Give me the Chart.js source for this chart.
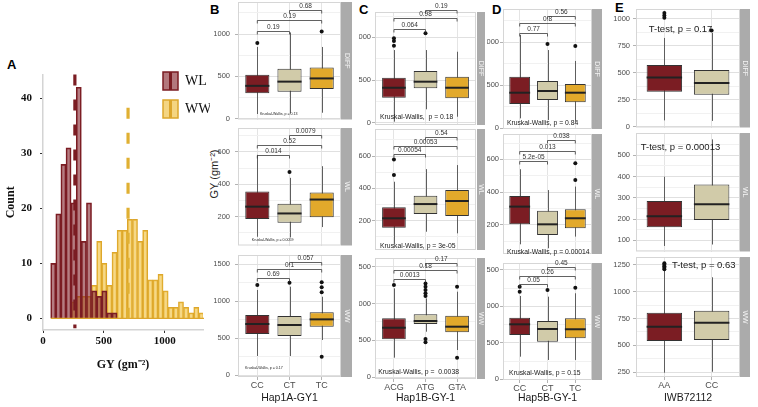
<!DOCTYPE html>
<html>
<head>
<meta charset="utf-8">
<script src="https://cdn.jsdelivr.net/npm/chart.js@4.4.0/dist/chart.umd.min.js"></script>
<style>
  body { margin: 0; background: #fff; }
  #wrap { position: relative; width: 758px; height: 407px; overflow: hidden; }
  #wrap canvas { position: absolute; }
  .tag { position: absolute; font: bold 13px 'Liberation Sans', Arial, sans-serif; line-height: 13px; color: #000; }
  #gy { position: absolute; left: 213px; top: 174px; transform: translate(-50%, -50%) rotate(-90deg);
        font: 11px 'Liberation Sans', Arial, sans-serif; color: #222; white-space: nowrap; }
</style>
</head>
<body>
<div id="wrap">
  <div class="tag" style="left:7px;top:58px">A</div>
  <div class="tag" style="left:210px;top:3px">B</div>
  <div class="tag" style="left:359px;top:3px">C</div>
  <div class="tag" style="left:492px;top:3px">D</div>
  <div class="tag" style="left:615px;top:1px">E</div>
  <div id="gy">GY (gm⁻²)</div>
</div>
<script>
// ---- panel A : histogram of GY ----
const binMids = [84, 126, 168, 210, 252, 294, 336, 378, 420, 462, 504, 546, 588, 630, 672,
                 714, 756, 798, 840, 882, 924, 966, 1008, 1050, 1092, 1134, 1176, 1218, 1260, 1302];
const countWL = [10, 19, 28, 31, 21, 42, 14, 21, 5, 4, 5, 1, 1, 0, 0,
                 0, 0, 0, 0, 0, 0, 0, 0, 0, 0, 0, 0, 0, 0, 0];
const countWW = [0, 0, 0, 0, 3, 4, 4, 4, 6, 14, 10, 6, 12, 16, 16,
                 18, 18, 14, 16, 7, 7, 8, 5, 2, 2, 3, 2, 1, 2, 1];
const groupMeans = [262, 699];          // WL, WW
const histXTicks = [0, 500, 1000];
const histYTicks = [0, 10, 20, 30, 40];

// ---- genotype groups ----
const hap1A = ['CC', 'CT', 'TC'];
const hap1B = ['ACG', 'ATG', 'GTA'];
const hap5B = ['CC', 'CT', 'TC'];
const iwb = ['AA', 'CC'];

// box stats: [lower whisker, q1, median, q3, upper whisker]
const bDiff = [[54, 299, 387, 517, 847], [61, 318, 437, 590, 1019], [69, 349, 475, 605, 847]];
const bWL   = [[76, 186, 262, 356, 582], [72, 162, 220, 280, 440], [136, 196, 306, 350, 512]];
const bWW   = [[257, 554, 689, 811, 1149], [257, 527, 676, 797, 1194], [473, 653, 752, 847, 1058]];
const cDiff = [[12, 293, 410, 528, 852], [157, 403, 481, 606, 852], [70, 286, 410, 539, 832]];
const cWL   = [[60, 157, 215, 283, 441], [132, 241, 303, 354, 519], [122, 229, 322, 390, 544]];
const cWW   = [[266, 515, 672, 799, 1206], [618, 722, 763, 854, 1070], [370, 610, 686, 835, 1160]];
const dDiff = [[116, 283, 414, 600, 1085], [97, 329, 434, 550, 910], [77, 302, 414, 515, 783]];
const dWL   = [[82, 204, 312, 377, 540], [58, 139, 204, 287, 413], [129, 180, 241, 296, 434]];
const dWW   = [[310, 608, 754, 845, 1143], [265, 516, 690, 800, 1133], [265, 562, 686, 837, 1180]];
const eDiff = [[60, 326, 457, 573, 823], [55, 298, 405, 527, 869]];
const eWL   = [[73, 161, 213, 285, 399], [80, 195, 270, 363, 575]];
const eWW   = [[245, 541, 674, 804, 1202], [254, 550, 711, 823, 1134]];

// outliers per group
const bDiffOut = [[893], [], [1031]];
const bWLOut   = [[], [476], []];
const bWWOut   = [[1216], [1247], [1252, 1185, 1117, 248]];
const cDiffOut = [[989, 958, 903], [1048], []];
const cWLOut   = [[579, 482], [], []];
const cWWOut   = [[1251], [1273, 1228, 1183, 1138, 1102, 519, 474], [1228, 266]];
const dDiffOut = [[], [980], [957]];
const dWLOut   = [[], [], [576, 474]];
const dWWOut   = [[1270, 1202], [1225], [1256]];
const eDiffOut = [[1054, 1030, 1009], [893]];
const eWLOut   = [[], []];
const eWWOut   = [[1264, 1250, 1236, 1222, 1209], []];

// pairwise p-values (1-2, 1-3, 2-3) and bracket heights
const bDiffP = ['0.19', '0.19', '0.68'],        bDiffPY = [1038, 1161, 1287];
const bWLP   = ['0.014', '0.52', '0.0079'],     bWLPY   = [582, 642, 704];
const bWWP   = ['0.69', '0.1', '0.057'],        bWWPY   = [1307, 1428, 1531];
const cDiffP = ['0.064', '0.98', '0.19'],       cDiffPY = [1098, 1224, 1321];
const cWLP   = ['0.00054', '0.00053', '0.54'],  cWLPY   = [610, 662, 719];
const cWWP   = ['0.0013', '0.18', '0.17'],      cWWPY   = [1332, 1454, 1553];
const dDiffP = ['0.77', '0.8', '0.56'],         dDiffPY = [1105, 1221, 1306];
const dWLP   = ['5.2e-05', '0.013', '0.038'],   dWLPY   = [590, 653, 718];
const dWWP   = ['0.05', '0.26', '0.45'],        dWWPY   = [1307, 1417, 1545];

const bNotes = ['Kruskal-Wallis, p = 0.13', 'Kruskal-Wallis, p = 0.0059', 'Kruskal-Wallis, p = 0.17'];
const cNotes = ['Kruskal-Wallis,  p = 0.18', 'Kruskal-Wallis, p = 3e-05', 'Kruskal-Wallis, p =  0.0038'];
const dNotes = ['Kruskal-Wallis, p = 0.84', 'Kruskal-Wallis, p = 0.00014', 'Kruskal-Wallis, p = 0.15'];
const eNotes = ['T-test, p = 0.17', 'T-test, p = 0.00013', 'T-test, p = 0.63'];

// y tick values
const diffMajor = [0, 500, 1000], diffMinor = [250, 750, 1250];
const wlMajor = [200, 400, 600], wlMinor = [100, 300, 500, 700];
const wwMajor = [0, 500, 1000, 1500], wwMinor = [250, 750, 1250];
const eDiffMajor = [0, 250, 500, 750, 1000], eDiffMinor = [125, 375, 625, 875];
const eWLMajor = [100, 200, 300, 400, 500], eWLMinor = [50, 150, 250, 350, 450, 550];
const eWWMajor = [250, 500, 750, 1000, 1250], eWWMinor = [375, 625, 875, 1125];

Chart.defaults.font.family = "'Liberation Sans', Arial, sans-serif";
Chart.defaults.animation = false;
const narrow = "'Liberation Sans Narrow', 'Arial Narrow', 'Liberation Sans', sans-serif";
const serif = "'Liberation Serif', 'Times New Roman', serif";
const genoFill = ['#7b1d23', '#d1cba9', '#e2a92b'];

const wrap = document.getElementById('wrap');
function addCanvas(left, top, w, h) {
  const c = document.createElement('canvas');
  c.width = w; c.height = h;
  c.style.left = left + 'px'; c.style.top = top + 'px';
  c.style.width = w + 'px'; c.style.height = h + 'px';
  wrap.appendChild(c);
  return c;
}

// ---------- histogram ----------
const histExtras = {
  id: 'histExtras',
  afterDatasetsDraw(chart) {
    const { ctx, scales: { x, y } } = chart;
    ctx.save();
    // zero-count bins outline
    ctx.strokeStyle = '#dca62c'; ctx.lineWidth = 1.2;
    ctx.beginPath();
    ctx.moveTo(x.getPixelForValue(binMids[0] - 21), y.getPixelForValue(0));
    ctx.lineTo(x.getPixelForValue(binMids[binMids.length - 1] + 21), y.getPixelForValue(0));
    ctx.stroke();
    // mean lines
    const tops = [44.3, 38.3];
    const lineCols = ['#7b1d23', '#e0b032'];
    groupMeans.forEach((m, i) => {
      const px = x.getPixelForValue(m);
      ctx.setLineDash([11, 14]);
      ctx.lineWidth = 3.2; ctx.strokeStyle = lineCols[i];
      ctx.beginPath();
      ctx.moveTo(px, y.getPixelForValue(tops[i]));
      ctx.lineTo(px, y.getPixelForValue(-1.8));
      ctx.stroke();
    });
    ctx.setLineDash([]);
    // legend
    const keyFill = ['#b3787d', '#f4d582'];
    const keyLine = ['#7b1d23', '#dca62c'];
    [12, 40].forEach((ky, i) => {
      ctx.fillStyle = keyFill[i];
      ctx.fillRect(163, ky, 15, 18);
      ctx.strokeStyle = keyLine[i]; ctx.lineWidth = 1.5;
      ctx.strokeRect(163, ky, 15, 18);
      ctx.lineWidth = 3;
      ctx.beginPath(); ctx.moveTo(170.5, ky); ctx.lineTo(170.5, ky + 18); ctx.stroke();
      ctx.fillStyle = '#111';
      ctx.font = '14px ' + serif;
      ctx.textAlign = 'left'; ctx.textBaseline = 'middle';
      ctx.fillText(chart.data.datasets[i].label, 185, ky + 9);
    });
    ctx.restore();
  }
};

new Chart(addCanvas(0, 60, 210, 320), {
  type: 'bar',
  data: {
    datasets: [
      { label: 'WL', data: binMids.map((m, i) => ({ x: m, y: countWL[i] })),
        backgroundColor: 'rgba(128, 30, 38, 0.58)', borderColor: '#7b1d23', borderWidth: 1,
        grouped: false, barPercentage: 1, categoryPercentage: 1 },
      { label: 'WW', data: binMids.map((m, i) => ({ x: m, y: countWW[i] })),
        backgroundColor: 'rgba(240, 192, 62, 0.62)', borderColor: '#dca62c', borderWidth: 1,
        grouped: false, barPercentage: 1, categoryPercentage: 1 }
    ]
  },
  options: {
    responsive: false, devicePixelRatio: 1,
    layout: { padding: { top: 10, right: 7, left: 0, bottom: 0 } },
    plugins: { legend: { display: false }, tooltip: { enabled: false } },
    scales: {
      x: {
        type: 'linear', min: 0, max: 1315, offset: false,
        afterBuildTicks: s => { s.ticks = histXTicks.map(v => ({ value: v })); },
        afterFit: s => { s.height = 50; },
        grid: { offset: false, drawOnChartArea: false, tickLength: 3, tickColor: '#333' },
        border: { color: '#d4d4d4', width: 1.5 },
        ticks: { callback: v => String(v), font: { family: serif, weight: 'bold', size: 11 }, color: '#111',
                 padding: 2, maxRotation: 0 },
        title: { display: true, text: 'GY (gm⁻²)', font: { family: serif, weight: 'bold', size: 12 }, color: '#111',
                 padding: { top: 0, bottom: 8 } }
      },
      y: {
        min: -2.1, max: 44.3,
        afterBuildTicks: s => { s.ticks = histYTicks.map(v => ({ value: v })); },
        afterFit: s => { s.width = 43; },
        grid: { drawOnChartArea: false, tickLength: 3, tickColor: '#333' },
        border: { color: '#d4d4d4', width: 1.5 },
        ticks: { callback: v => String(v), font: { family: serif, weight: 'bold', size: 11 }, color: '#111', padding: 8 },
        title: { display: true, text: 'Count', font: { family: serif, weight: 'bold', size: 12 }, color: '#111',
                 padding: { top: 4, bottom: 0 } }
      }
    }
  },
  plugins: [histExtras]
});

// ---------- box plot facets ----------
const cols = {
  B: { l: 238, r: 341, sl: 341, sr: 352, yW: 24, xr: [0.4, 3.6], tickPad: 5, noteSize: 3.6, noteFont: narrow },
  C: { l: 375, r: 476, sl: 477, sr: 485, yW: 16, xr: [0.4, 3.6], tickPad: 1, noteSize: 6.8, noteFont: narrow },
  D: { l: 503, r: 592, sl: 592, sr: 602, yW: 16, xr: [0.4, 3.6], tickPad: 1, noteSize: 6.8, noteFont: narrow },
  E: { l: 636, r: 740, sl: 740, sr: 750, yW: 24, xr: [0.4, 2.6], tickPad: 3, noteSize: 9.5, noteFont: "'Liberation Sans', Arial, sans-serif" }
};

const facets = [
  { col: 'B', strip: 'DIFF', cats: hap1A, box: bDiff, out: bDiffOut, p: bDiffP, pY: bDiffPY, note: bNotes[0], noteAt: [1.08, 57],
    t: 2, b: 123, y: [-11, 1379], major: diffMajor, minor: diffMinor },
  { col: 'B', strip: 'WL', cats: hap1A, box: bWL, out: bWLOut, p: bWLP, pY: bWLPY, note: bNotes[1], noteAt: [0.83, 58],
    t: 128, b: 249, y: [22, 748], major: wlMajor, minor: wlMinor },
  { col: 'B', strip: 'WW', cats: hap1A, box: bWW, out: bWWOut, p: bWWP, pY: bWWPY, note: bNotes[2], noteAt: [0.62, 95],
    t: 255, b: 377, y: [-27, 1622], major: wwMajor, minor: wwMinor, bottom: true, xTitle: 'Hap1A-GY1' },
  { col: 'C', strip: 'DIFF', cats: hap1B, box: cDiff, out: cDiffOut, p: cDiffP, pY: cDiffPY, note: cNotes[0], noteAt: [0.56, 61],
    t: 12, b: 125, y: [-27, 1298], major: diffMajor, minor: diffMinor },
  { col: 'C', strip: 'WL', cats: hap1B, box: cWL, out: cWLOut, p: cWLP, pY: cWLPY, note: cNotes[1], noteAt: [0.56, 43],
    t: 129, b: 250, y: [19, 767], major: wlMajor, minor: wlMinor },
  { col: 'C', strip: 'WW', cats: hap1B, box: cWW, out: cWWOut, p: cWWP, pY: cWWPY, note: cNotes[2], noteAt: [0.5, 72],
    t: 258, b: 379, y: [-23, 1617], major: wwMajor, minor: wwMinor, bottom: true, xTitle: 'Hap1B-GY-1' },
  { col: 'D', strip: 'DIFF', cats: hap5B, box: dDiff, out: dDiffOut, p: dDiffP, pY: dDiffPY, note: dNotes[0], noteAt: [0.54, 62],
    t: 9, b: 129, y: [-8, 1387], major: diffMajor, minor: diffMinor },
  { col: 'D', strip: 'WL', cats: hap5B, box: dWL, out: dWLOut, p: dWLP, pY: dWLPY, note: dNotes[1], noteAt: [0.54, 35],
    t: 134, b: 254, y: [23, 755], major: wlMajor, minor: wlMinor },
  { col: 'D', strip: 'WW', cats: hap5B, box: dWW, out: dWWOut, p: dWWP, pY: dWWPY, note: dNotes[2], noteAt: [0.62, 86],
    t: 263, b: 380, y: [-10, 1595], major: wwMajor, minor: wwMinor, bottom: true, xTitle: 'Hap5B-GY-1' },
  { col: 'E', strip: 'DIFF', cats: iwb, box: eDiff, out: eDiffOut, note: eNotes[0], noteAt: [0.67, 906],
    t: 9, b: 129, y: [-6, 1091], major: eDiffMajor, minor: eDiffMinor },
  { col: 'E', strip: 'WL', cats: iwb, box: eWL, out: eWLOut, note: eNotes[1], noteAt: [0.5, 538],
    t: 133, b: 253, y: [47, 605], major: eWLMajor, minor: eWLMinor },
  { col: 'E', strip: 'WW', cats: iwb, box: eWW, out: eWWOut, note: eNotes[2], noteAt: [1.16, 1242],
    t: 257, b: 377, y: [205, 1323], major: eWWMajor, minor: eWWMinor, bottom: true, xTitle: 'IWB72112' }
];

const pairs = [[1, 2], [1, 3], [2, 3]];

function boxParts(f, col) {
  return {
    id: 'boxParts',
    beforeDatasetsDraw(chart) {
      const { ctx, scales: { x, y } } = chart;
      ctx.save();
      ctx.strokeStyle = '#5e5e5e'; ctx.lineWidth = 1;
      f.box.forEach((s, i) => {
        const px = Math.round(x.getPixelForValue(i + 1)) + 0.5;
        ctx.beginPath();
        ctx.moveTo(px, y.getPixelForValue(s[0]));
        ctx.lineTo(px, y.getPixelForValue(s[4]));
        ctx.stroke();
      });
      ctx.restore();
    },
    afterDatasetsDraw(chart) {
      const { ctx, chartArea: a, scales: { x, y } } = chart;
      const bars = chart.getDatasetMeta(0).data;
      ctx.save();
      // medians
      ctx.strokeStyle = '#222'; ctx.lineWidth = 2;
      f.box.forEach((s, i) => {
        const bar = bars[i];
        const py = y.getPixelForValue(s[2]);
        ctx.beginPath();
        ctx.moveTo(bar.x - bar.width / 2, py);
        ctx.lineTo(bar.x + bar.width / 2, py);
        ctx.stroke();
      });
      // panel border
      ctx.strokeStyle = '#d6d6d6'; ctx.lineWidth = 1;
      ctx.strokeRect(a.left + 0.5, a.top + 0.5, a.right - a.left - 1, a.bottom - a.top - 1);
      // facet strip
      const sx = a.right + (col.sl - col.r);
      const sw = col.sr - col.sl;
      ctx.fillStyle = '#ababab';
      ctx.fillRect(sx, a.top, sw, a.bottom - a.top);
      ctx.save();
      ctx.translate(sx + sw / 2, (a.top + a.bottom) / 2);
      ctx.rotate(Math.PI / 2);
      ctx.fillStyle = '#f4f4f4';
      ctx.font = '7px ' + Chart.defaults.font.family;
      ctx.textAlign = 'center'; ctx.textBaseline = 'middle';
      ctx.fillText(f.strip, 0, 0);
      ctx.restore();
      // significance brackets
      if (f.p) {
        f.p.forEach((lab, k) => {
          const [i, j] = pairs[k];
          const x1 = x.getPixelForValue(i), x2 = x.getPixelForValue(j);
          const py = Math.round(y.getPixelForValue(f.pY[k])) + 0.5;
          ctx.strokeStyle = '#3a3a3a'; ctx.lineWidth = 0.8;
          ctx.beginPath();
          ctx.moveTo(x1, py + 3); ctx.lineTo(x1, py); ctx.lineTo(x2, py); ctx.lineTo(x2, py + 3);
          ctx.stroke();
          ctx.fillStyle = '#333';
          ctx.font = '6.5px ' + narrow;
          ctx.textAlign = 'center'; ctx.textBaseline = 'bottom';
          ctx.fillText(lab, (x1 + x2) / 2, py - 1);
        });
      }
      // test note
      ctx.fillStyle = '#1a1a1a';
      ctx.font = col.noteSize + 'px ' + col.noteFont;
      ctx.textAlign = 'left'; ctx.textBaseline = 'middle';
      ctx.fillText(f.note, x.getPixelForValue(f.noteAt[0]), y.getPixelForValue(f.noteAt[1]));
      ctx.restore();
    }
  };
}

function drawFacet(f) {
  const col = cols[f.col];
  const padT = 12, padB = 6;
  const left = col.l - col.yW;
  const top = f.t - padT;
  const width = col.sr - left;
  const height = f.bottom ? 407 - top : (f.b - f.t) + padT + padB;
  const xs = f.cats.map((c, i) => i + 1);
  const yTicks = f.major.concat(f.minor).sort((a, b) => a - b);
  const isMajor = v => f.major.includes(v);
  new Chart(addCanvas(left, top, width, height), {
    type: 'bar',
    data: {
      datasets: [
        { data: f.box.map((s, i) => ({ x: i + 1, y: [s[1], s[3]] })),
          backgroundColor: genoFill.slice(0, f.cats.length), borderColor: '#333', borderWidth: 1,
          borderSkipped: false, barPercentage: 0.75, categoryPercentage: 1 },
        { type: 'scatter', data: f.out.flatMap((arr, i) => arr.map(v => ({ x: i + 1, y: v }))),
          pointRadius: 2, pointHoverRadius: 2, backgroundColor: '#111', borderWidth: 0 }
      ]
    },
    options: {
      responsive: false, devicePixelRatio: 1,
      layout: { padding: { top: padT, right: col.sr - col.r, bottom: f.bottom ? 0 : padB, left: 0 } },
      plugins: { legend: { display: false }, tooltip: { enabled: false } },
      scales: {
        x: {
          type: 'linear', min: col.xr[0], max: col.xr[1], offset: false,
          afterBuildTicks: s => { s.ticks = xs.map(v => ({ value: v })); },
          afterFit: s => { s.height = f.bottom ? 407 - f.b : 0; },
          grid: { offset: false, color: '#e4e4e4', drawTicks: !!f.bottom, tickLength: 3, tickColor: '#b3b3b3' },
          border: { display: false },
          ticks: { display: !!f.bottom, callback: v => f.cats[v - 1], font: { size: 9, family: narrow },
                   color: '#4d4d4d', padding: 0, maxRotation: 0, autoSkip: false },
          title: { display: !!f.bottom, text: f.xTitle || '', font: { size: 10.5 }, color: '#1a1a1a',
                   padding: { top: 0, bottom: 3 } }
        },
        y: {
          min: f.y[0], max: f.y[1],
          afterBuildTicks: s => { s.ticks = yTicks.map(v => ({ value: v })); },
          afterFit: s => { s.width = col.yW; },
          grid: {
            color: c => (c.tick && isMajor(c.tick.value)) ? '#e0e0e0' : '#f1f1f1',
            tickColor: c => (c.tick && isMajor(c.tick.value)) ? '#b3b3b3' : 'rgba(0,0,0,0)',
            tickLength: 3
          },
          border: { display: false },
          ticks: { autoSkip: false, callback: v => isMajor(v) ? String(v) : '',
                   font: { size: 7.5, family: narrow }, color: '#4d4d4d', padding: col.tickPad }
        }
      }
    },
    plugins: [boxParts(f, col)]
  });
}

facets.forEach(drawFacet);
</script>
</body>
</html>
